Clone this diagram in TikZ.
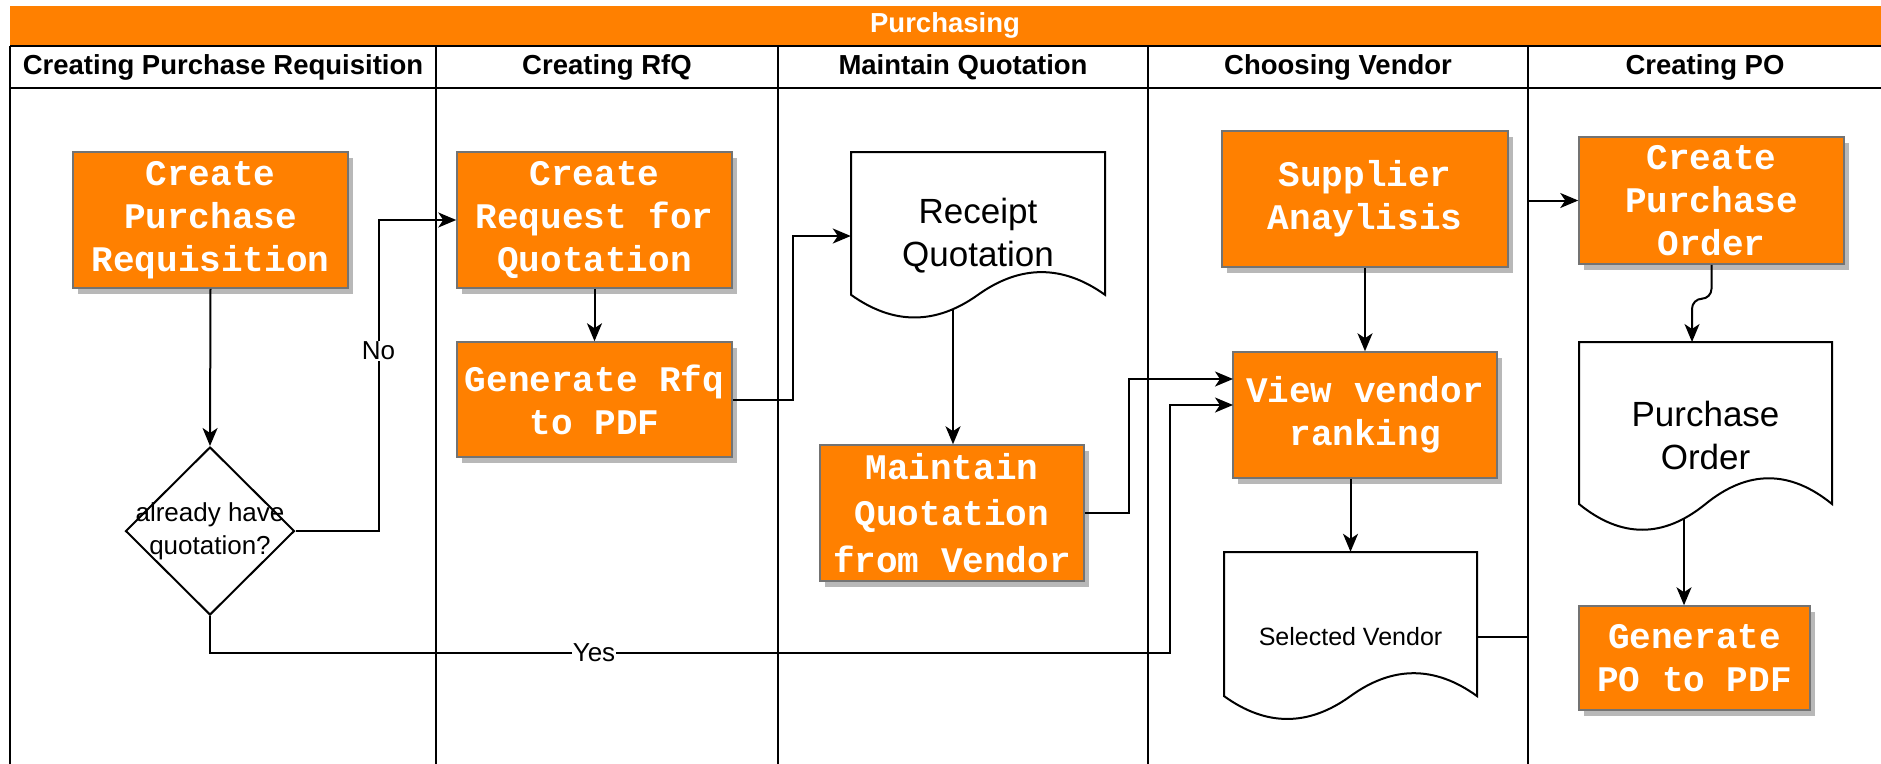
\documentclass[tikz,border=0pt]{standalone}
\usepackage{fontspec}
\setmainfont{Liberation Sans}
\newfontfamily\boxfont{Liberation Mono}
\usetikzlibrary{shapes.geometric,arrows.meta,shadows,calc}
\definecolor{orng}{HTML}{FF8000}
\newcommand\docshape[4]{%
  \draw[docline] (#1,#2) -- ({#1+#3},#2) -- ({#1+#3},{#2+0.85*#4})
   .. controls ({#1+0.8333*#3},{#2+0.67*#4}) and ({#1+0.6667*#3},{#2+0.67*#4}) .. ({#1+0.5*#3},{#2+0.85*#4})
   .. controls ({#1+0.3333*#3},{#2+1.03*#4}) and ({#1+0.1667*#3},{#2+1.03*#4}) .. (#1,{#2+0.85*#4}) -- cycle;}
\begin{document}
\begin{tikzpicture}[x=1pt,y=-1pt,
  lane/.style={line width=2pt,draw=black},
  docline/.style={line width=2pt,draw=black,fill=white},
  task/.style={rectangle,fill=orng,draw=black!55,line width=1.5pt,text=white,
    font=\boxfont\bfseries\fontsize{36}{43}\selectfont,align=center,inner sep=0pt,
    drop shadow={shadow xshift=5pt,shadow yshift=-6pt,fill=black!28,opacity=1}},
  doc/.style={rectangle,draw=none,inner sep=0pt,align=center,font=\fontsize{35}{43}\selectfont},
  flow/.style={line width=2pt,-{Stealth[length=18pt,width=15pt,inset=5pt]}},
  lbl/.style={fill=white,inner sep=1pt,font=\fontsize{26}{31}\selectfont},
  hdr/.style={font=\bfseries\fontsize{27.5}{33}\selectfont},
]
\useasboundingbox (0,0) rectangle (1881,763);
\clip (0,0) rectangle (1881,763);
\fill[white] (0,0) rectangle (1881,763);
% pool and lanes
\fill[orng] (10,6) rectangle (1895,46);
\node[hdr,text=white] (title) at (945,25) {Purchasing};
\draw[lane] (10,46) -- (1895,46);
\draw[lane] (10,88) -- (1895,88);
\draw[lane] (10,46) -- (10,790);
\draw[lane] (436,46) -- (436,790);
\draw[lane] (778,46) -- (778,790);
\draw[lane] (1148,46) -- (1148,790);
\draw[lane] (1528,46) -- (1528,790);
\node[hdr] (h1) at (223,67) {Creating Purchase Requisition};
\node[hdr] (h2) at (607,67) {Creating RfQ};
\node[hdr] (h3) at (963,67) {Maintain Quotation};
\node[hdr] (h4) at (1338,67) {Choosing Vendor};
\node[hdr] (h5) at (1705,67) {Creating PO};
% task boxes
\node[task,minimum width=275pt,minimum height=136pt] (cpr) at (210.5,220) {Create\\Purchase\\Requisition};
\node[task,minimum width=275pt,minimum height=136pt] (rfq) at (594.5,220) {Create\\Request for\\Quotation};
\node[task,minimum width=275pt,minimum height=115pt] (grfq) at (594.5,399.5) {Generate Rfq\\to PDF};
\node[task,minimum width=264pt,minimum height=136pt,font=\boxfont\bfseries\fontsize{36}{46.5}\selectfont] (mq) at (952,513) {Maintain\\Quotation\\from Vendor};
\node[task,minimum width=286pt,minimum height=136pt] (sa) at (1365,199) {Supplier\\Anaylisis};
\node[task,minimum width=264pt,minimum height=126pt] (vv) at (1365,415) {View vendor\\ranking};
\node[task,minimum width=265pt,minimum height=127pt] (cpo) at (1711.5,200.5) {Create\\Purchase\\Order};
\node[task,minimum width=231pt,minimum height=104pt] (gpo) at (1694.5,658) {Generate\\PO to PDF};
% decision
\node[diamond,draw,line width=2pt,shape aspect=1,minimum width=169pt,minimum height=168pt,inner sep=0pt,
  label={[align=center,font=\fontsize{26}{33}\selectfont]center:already have\\quotation?}] (d) at (210,531) {};
% documents
\docshape{851}{152}{254}{168}
\node[doc,minimum width=254pt,minimum height=168pt] (rq) at (978,236) {Receipt\\Quotation};
\docshape{1224}{552}{253}{169.5}
\node[doc,minimum width=253pt,minimum height=169.5pt,font=\fontsize{25}{30}\selectfont] (sv) at (1350.5,636.75) {Selected Vendor};
\docshape{1579}{342}{253}{190.6}
\node[doc,minimum width=253pt,minimum height=190.6pt] (pod) at (1705.5,435) {Purchase\\Order};
% connection points
\coordinate (rqout) at (953,310);
\coordinate (vvin1) at (1233,379);
\coordinate (vvin2) at (1233,405);
\coordinate (podin) at (1692,342);
\coordinate (podout) at (1684,518);
% connectors
\draw[flow] (cpr.south) -- (d.north);
\draw[flow] (d.east) -- ++(83,0) |- node[lbl,pos=0.29]{No} (rfq.west);
\draw[flow] (rfq.south) -- (grfq.north);
\draw[flow] (grfq.east) -- ++(60,0) |- (rq.west);
\draw[flow] (rqout) -- (rqout |- mq.north);
\draw[flow] (mq.east) -- ++(44,0) |- (vvin1);
\draw[flow] (d.south) -- ++(0,37) -- node[lbl,pos=0.4]{Yes} ++(960,0) |- (vvin2);
\draw[flow] (sa.south) -- (vv.north);
\draw[flow] (vv.south -| sv.north) -- (sv.north);
\draw[flow] (sv.east) -- ++(51,0) |- (cpo.west);
\draw[flow,rounded corners=10pt] (cpo.south) -- ++(0,34) -| (podin);
\draw[flow] (podout) -- (podout |- gpo.north);
\end{tikzpicture}
\end{document}
